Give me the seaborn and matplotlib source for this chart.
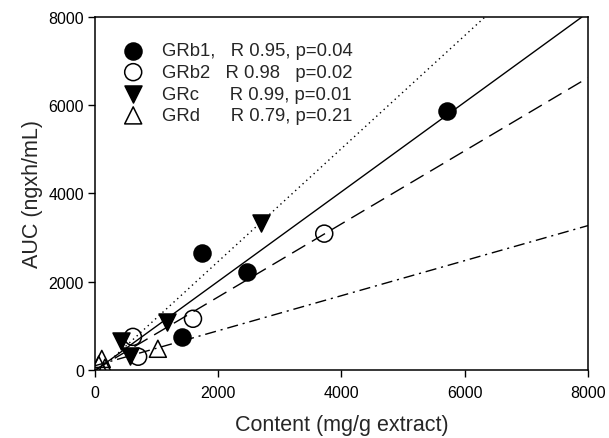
import numpy as np
import matplotlib
matplotlib.use('Agg')
import matplotlib.pyplot as plt
import pandas as pd
import seaborn as sns

# values
groups = ['GRb1', 'GRb2', 'GRc', 'GRd']
labels = ['GRb1,   R 0.95, p=0.04',
          'GRb2   R 0.98   p=0.02',
          'GRc      R 0.99, p=0.01',
          'GRd      R 0.79, p=0.21']

grb1_x = [1410, 1730, 2460, 5710]
grb1_y = [750, 2640, 2230, 5860]
grb2_x = [615, 700, 1590, 3720]
grb2_y = [750, 300, 1160, 3090]
grc_x = [420, 570, 1165, 2700]
grc_y = [660, 320, 1090, 3340]
grd_x = [110, 160, 60, 1020]
grd_y = [250, 50, 120, 480]

# regression lines (slope, intercept) as drawn
fit_slope = [1.015, 0.828, 1.28, 0.397]
fit_icpt = [-20, 0, -100, 96]

xticks = [0, 2000, 4000, 6000, 8000]
yticks = [0, 2000, 4000, 6000, 8000]

df = pd.DataFrame({
    'content': grb1_x + grb2_x + grc_x + grd_x,
    'auc': grb1_y + grb2_y + grc_y + grd_y,
    'group': sum([[g] * 4 for g in groups], []),
})

sns.set_theme(style='ticks')
plt.rcParams['font.family'] = ['Liberation Sans', 'DejaVu Sans']

fig = plt.figure(figsize=(6.09, 4.39), dpi=100)
ax = fig.add_axes([0.156, 0.155, 0.8095, 0.804])

markers = ['o', 'o', 'v', '^']
faces = ['black', 'none', 'black', 'none']
lstyles = ['-', (0, (11, 5.5)), (0, (1, 2.6)), (0, (8, 3.5, 1.5, 3.5))]

for g, lab, m, fc in zip(groups, labels, markers, faces):
    sub = df[df['group'] == g]
    ax.scatter(sub['content'], sub['auc'], marker=m, s=150, facecolors=fc,
               edgecolors='black', linewidths=1.1, label=lab, zorder=3)

for k, ls in zip(range(4), lstyles):
    ax.axline((0, fit_icpt[k]), slope=fit_slope[k], color='black', lw=1.0,
              linestyle=ls, zorder=2)

ax.set_xlim(0, 8000)
ax.set_ylim(0, 8000)
ax.set_xticks(xticks)
ax.set_yticks(yticks)
ax.tick_params(axis='both', direction='out', length=5, width=1, colors='black',
               labelsize=11.5)
ax.tick_params(axis='x', pad=6)
ax.tick_params(axis='y', pad=3)
for sp in ax.spines.values():
    sp.set_visible(True)
    sp.set_color('black')
    sp.set_linewidth(1.1)

ax.set_xlabel('Content (mg/g extract)', fontsize=15.5, labelpad=10)
ax.set_ylabel('AUC (ngxh/mL)', fontsize=15.5, labelpad=4)

ax.legend(loc='upper left', bbox_to_anchor=(0.025, 0.949), frameon=False,
          fontsize=13.3, labelspacing=0.25, handletextpad=0.55,
          borderaxespad=0, markerscale=1.0)

fig.savefig('out.png', dpi=100)
